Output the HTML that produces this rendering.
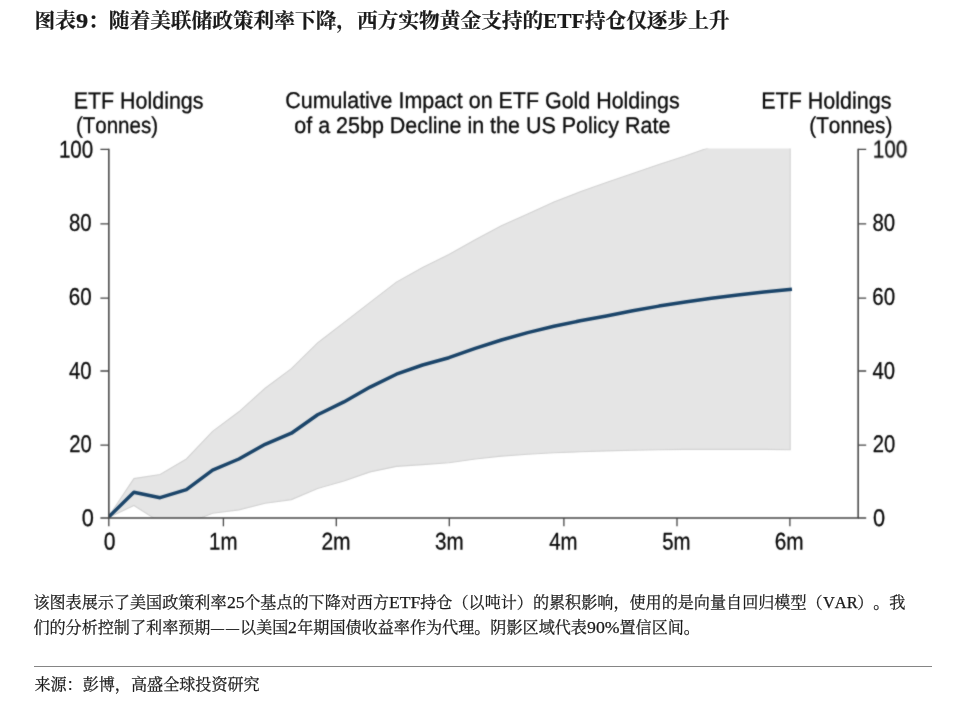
<!DOCTYPE html>
<html lang="zh-CN"><head><meta charset="utf-8"><title>图表9</title>
<style>
html,body{margin:0;padding:0;background:#fff;}
body{width:958px;height:714px;overflow:hidden;position:relative;font-family:"Liberation Serif","Noto Serif CJK SC",serif;color:#1a1a1a;text-spacing-trim:space-all;}
h1{position:absolute;left:34.5px;top:6.25px;margin:0;font-size:20.69px;line-height:30px;font-weight:700;white-space:nowrap;}
.chart{position:absolute;left:0;top:80px;}
i{display:inline-block;font-style:normal;font-kerning:none;transform-origin:0 50%;white-space:nowrap;}
.desc,.src{-webkit-text-stroke:0.25px #1a1a1a;}
h1{-webkit-text-stroke:0.2px #1a1a1a;}
.desc{position:absolute;left:33.4px;top:589.8px;width:896px;margin:0;font-size:16.1px;line-height:25px;white-space:nowrap;}
.rule{position:absolute;left:34px;top:666px;width:898px;height:1px;background:#858585;}
.src{position:absolute;left:34px;top:670px;transform:translate(0.4px,0.5px);width:896px;margin:0;font-size:16.1px;line-height:27px;white-space:nowrap;}
</style></head><body>
<h1>图表<i style="width:12.19px;transform:scaleX(1.1782)">9</i>：随着美联储政策利率下降，西方实物黄金支持的<i style="width:41.56px;transform:scaleX(1.0330)">ETF</i>持仓仅逐步上升</h1>
<svg class="chart" width="958" height="480" viewBox="0 80 958 480">
<defs><clipPath id="c"><rect x="108.8" y="148.6" width="749.3" height="369.4"/></clipPath>
<filter id="b" x="0" y="80" width="958" height="480" filterUnits="userSpaceOnUse" color-interpolation-filters="sRGB"><feConvolveMatrix order="3" kernelMatrix="0.0345 0.0805 0.0345 0.0805 0.5400 0.0805 0.0345 0.0805 0.0345" divisor="1" preserveAlpha="false" edgeMode="none"/></filter></defs>
<g filter="url(#b)">
<g clip-path="url(#c)"><path d="M107.6,518.0 133.9,478.6 160.1,474.5 186.4,459.0 212.6,431.4 238.9,411.8 265.1,388.3 291.4,368.7 317.6,342.9 343.9,322.6 370.1,302.4 396.4,282.1 422.6,267.4 448.9,254.5 475.2,239.7 501.4,225.7 527.7,213.9 553.9,202.1 580.2,191.8 606.4,182.6 632.7,173.4 658.9,164.5 685.2,156.0 711.4,146.8 737.7,138.3 763.9,131.0 790.2,123.6 L790.2,449.8 763.9,449.4 737.7,449.4 711.4,449.4 685.2,449.4 658.9,449.8 632.7,450.2 606.4,450.9 580.2,451.7 553.9,452.8 527.7,454.2 501.4,456.1 475.2,459.0 448.9,462.7 422.6,464.6 396.4,466.4 370.1,471.9 343.9,481.1 317.6,488.5 291.4,499.6 265.1,503.3 238.9,509.9 212.6,513.2 186.4,523.5 160.1,522.1 133.9,505.5 107.6,518.0Z" fill="#e5e5e5" stroke="#d2d2d2" stroke-width="1.1"/>
<path d="M107.6,518.0 133.9,492.2 160.1,497.7 186.4,489.6 212.6,470.1 238.9,459.0 265.1,444.3 291.4,433.2 317.6,414.8 343.9,401.9 370.1,387.1 396.4,374.2 422.6,365.0 448.9,357.7 475.2,348.4 501.4,340.0 527.7,332.6 553.9,326.3 580.2,320.8 606.4,316.0 632.7,310.8 658.9,306.1 685.2,302.0 711.4,298.3 737.7,295.0 763.9,292.0 790.2,289.5" fill="none" stroke="#1a4469" stroke-width="3.5" stroke-linejoin="round" stroke-linecap="square"/></g>
<g stroke="#444" stroke-width="1.55" fill="none">
<path d="M108.85,148.8 V518.0 H858.15 V148.8" stroke-linejoin="miter"/>
<path stroke-width="1.3" d="M100.4,518.0 H108.85 M858.15,518.0 H866.2"/>
<path stroke-width="1.3" d="M100.4,445.2 H108.85 M858.15,445.2 H866.2"/>
<path stroke-width="1.3" d="M100.4,371.0 H108.85 M858.15,371.0 H866.2"/>
<path stroke-width="1.3" d="M100.4,298.2 H108.85 M858.15,298.2 H866.2"/>
<path stroke-width="1.3" d="M100.4,223.8 H108.85 M858.15,223.8 H866.2"/>
<path stroke-width="1.3" d="M100.4,149.4 H108.85 M858.15,149.4 H866.2"/>
<path stroke-width="1.3" d="M108.8,518.0 V526.3"/>
<path stroke-width="1.3" d="M223.4,518.0 V526.3"/>
<path stroke-width="1.3" d="M336.3,518.0 V526.3"/>
<path stroke-width="1.3" d="M449.3,518.0 V526.3"/>
<path stroke-width="1.3" d="M563.9,518.0 V526.3"/>
<path stroke-width="1.3" d="M677.0,518.0 V526.3"/>
<path stroke-width="1.3" d="M789.9,518.0 V526.3"/>
</g>
<g font-family="'Liberation Sans', sans-serif" font-size="24.0" fill="#0a0a0a" stroke="#0a0a0a" stroke-width="0.3" stroke-linejoin="round" style="font-kerning:none">
<text transform="matrix(0.9065,0.0005,0,1,81.80,526.00)" font-size="24.0">0</text>
<text transform="matrix(0.9065,0.0005,0,1,872.90,526.00)" font-size="24.0">0</text>
<text transform="matrix(0.8432,0.0005,0,1,69.13,451.99)" font-size="24.0">20</text>
<text transform="matrix(0.8432,0.0005,0,1,872.63,451.99)" font-size="24.0">20</text>
<text transform="matrix(0.8450,0.0005,0,1,69.08,378.79)" font-size="24.0">40</text>
<text transform="matrix(0.8450,0.0005,0,1,872.58,378.79)" font-size="24.0">40</text>
<text transform="matrix(0.8558,0.0005,0,1,68.81,304.79)" font-size="24.0">60</text>
<text transform="matrix(0.8558,0.0005,0,1,872.31,304.79)" font-size="24.0">60</text>
<text transform="matrix(0.8497,0.0005,0,1,68.96,230.69)" font-size="24.0">80</text>
<text transform="matrix(0.8497,0.0005,0,1,872.46,230.69)" font-size="24.0">80</text>
<text transform="matrix(0.8584,0.0005,0,1,58.88,157.59)" font-size="24.0">100</text>
<text transform="matrix(0.8584,0.0005,0,1,872.98,157.59)" font-size="24.0">100</text>
<text transform="matrix(0.8804,0.0005,0,1,103.72,549.50)" font-size="24.0">0</text>
<text transform="matrix(0.8520,0.0005,0,1,209.09,549.49)" font-size="24.0">1m</text>
<text transform="matrix(0.8772,0.0005,0,1,321.39,549.49)" font-size="24.0">2m</text>
<text transform="matrix(0.8592,0.0005,0,1,435.06,549.49)" font-size="24.0">3m</text>
<text transform="matrix(0.8492,0.0005,0,1,549.18,549.49)" font-size="24.0">4m</text>
<text transform="matrix(0.8507,0.0005,0,1,662.23,549.49)" font-size="24.0">5m</text>
<text transform="matrix(0.8677,0.0005,0,1,774.79,549.49)" font-size="24.0">6m</text>
<text transform="matrix(0.9159,0.0005,0,1,73.69,108.46)" font-size="23.4">ETF Holdings</text>
<text transform="matrix(0.9015,0.0005,0,1,75.88,132.98)" font-size="22.8">(Tonnes)</text>
<text transform="matrix(0.9405,0.0005,0,1,285.26,108.00)" font-size="22.8">Cumulative Impact on ETF Gold Holdings</text>
<text transform="matrix(0.9430,0.0005,0,1,294.25,132.90)" font-size="22.8">of a 25bp Decline in the US Policy Rate</text>
<text transform="matrix(0.9188,0.0005,0,1,761.19,108.46)" font-size="23.4">ETF Holdings</text>
<text transform="matrix(0.9117,0.0005,0,1,809.26,132.98)" font-size="22.8">(Tonnes)</text>
</g></g></svg>
<p class="desc">该图表展示了美国政策利率<i style="width:17.70px;transform:scaleX(1.1000)">25</i>个基点的下降对西方<i style="width:31.23px;transform:scaleX(1.0912)">ETF</i>持仓（以吨计）的累积影响，使用的是向量自回归模型（<i style="width:34.56px;transform:scaleX(1.0170)">VAR</i>）。我<br>们的分析控制了利率预期<i style="width:14.85px;transform:translateX(0.9px) scaleX(0.8078)">—</i><i style="width:14.85px;transform:translateX(0.9px) scaleX(0.8078)">—</i>以美国<i style="width:8.86px;transform:scaleX(1.1010)">2</i>年期国债收益率作为代理。阴影区域代表<i style="width:32.56px;transform:scaleX(1.1038)">90%</i>置信区间。</p>
<div class="rule"></div>
<p class="src">来源：彭博，高盛全球投资研究</p>
</body></html>
